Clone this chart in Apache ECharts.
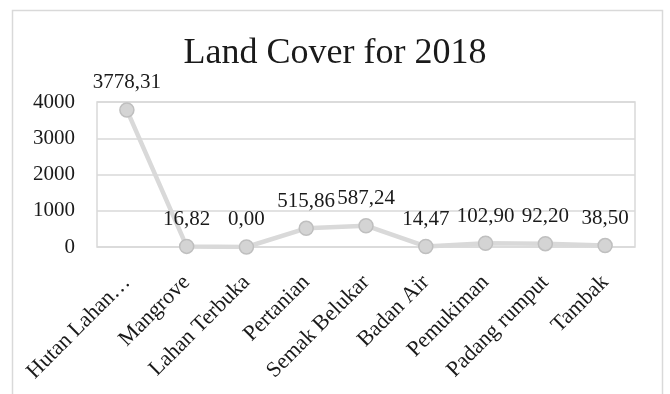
<!DOCTYPE html>
<html>
<head>
<meta charset="utf-8">
<script src="https://cdn.jsdelivr.net/npm/echarts@6/dist/echarts.min.js"></script>
<style>
  html, body { margin: 0; padding: 0; background: #fff; }
  #chart { width: 670px; height: 394px; }
</style>
</head>
<body>
<div id="chart"></div>
<script>
// Categorie e valori
const categories = ['Hutan Lahan…', 'Mangrove', 'Lahan Terbuka', 'Pertanian', 'Semak Belukar', 'Badan Air', 'Pemukiman', 'Padang rumput', 'Tambak'];
const areaValues = [3778.31, 16.82, 0.00, 515.86, 587.24, 14.47, 102.90, 92.20, 38.50];
const titleText = 'Land Cover for 2018';

const serif = 'Liberation Serif, Times New Roman, serif';
const textColor = '#1a1a1a';

const myChart = echarts.init(document.getElementById('chart'));
const option = {
  animation: false,
  title: {
    text: titleText,
    left: 'center',
    top: 31,
    textStyle: { fontFamily: serif, fontSize: 36, fontWeight: 'normal', color: textColor }
  },
  // bordo esterno del riquadro
  graphic: [{
    type: 'rect',
    shape: { x: 12.5, y: 10.5, width: 650, height: 400 },
    style: { fill: 'none', stroke: '#d9d9d9', lineWidth: 1.5 },
    silent: true
  }],
  grid: {
    left: 97, right: 35, top: 102, bottom: 147,
    show: true, borderColor: '#d9d9d9', borderWidth: 1.5
  },
  xAxis: {
    type: 'category',
    data: categories,
    boundaryGap: true,
    axisLine: { show: false },
    axisTick: { show: false },
    axisLabel: {
      rotate: 45,
      margin: 32,
      interval: 0,
      fontFamily: serif,
      fontSize: 22,
      color: textColor
    }
  },
  yAxis: {
    type: 'value',
    min: 0,
    max: 4000,
    interval: 1000,
    axisLine: { show: false },
    axisTick: { show: false },
    axisLabel: {
      fontFamily: serif, fontSize: 21, color: textColor, margin: 22,
      formatter: v => String(v)   // niente separatore delle migliaia
    },
    splitLine: { lineStyle: { color: '#d9d9d9', width: 1.5 } }
  },
  series: [{
    type: 'line',
    data: areaValues,
    symbol: 'circle',
    symbolSize: 14,
    lineStyle: { color: '#d9d9d9', width: 4.5 },
    itemStyle: { color: '#d4d4d4', borderColor: '#bfbfbf', borderWidth: 1.5 },
    label: {
      show: true,
      position: 'top',
      distance: 9,
      fontFamily: serif,
      fontSize: 21,
      color: textColor,
      formatter: p => p.value.toFixed(2).replace('.', ',')
    }
  }]
};
myChart.setOption(option);
</script>
</body>
</html>
